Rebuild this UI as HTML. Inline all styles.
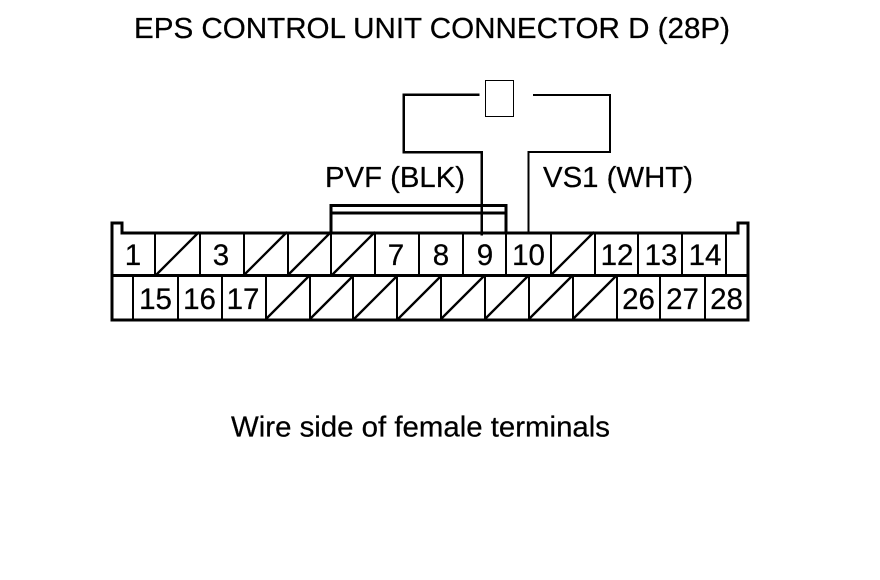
<!DOCTYPE html>
<html><head><meta charset="utf-8"><style>
html,body{margin:0;padding:0;background:#fff}
svg{display:block}
text{font-family:"Liberation Sans",sans-serif;fill:#000;stroke:#000;stroke-width:.25px;font-size:29.500px}
.n{text-anchor:middle}
.l{font-size:29px}
</style></head><body>
<svg width="880" height="580" viewBox="0 0 880 580" xmlns="http://www.w3.org/2000/svg">
<rect width="880" height="580" fill="#fff"/>
<g fill="none" stroke="#000" stroke-linecap="square" stroke-linejoin="miter" shape-rendering="crispEdges">
<path stroke-width="3" d="M112 320V223H122V233H738V223H748V320ZM112 275.500H748"/>
<path stroke-width="2" d="M155 233V275M200 233V275M244 233V275M288 233V275M331 233V275M375 233V275M419 233V275M463 233V275M506 233V275M551 233V275M595 233V275M638 233V275M682 233V275M726 233V275"/>
<path stroke-width="2" d="M133 276V319M178 276V319M222 276V319M266 276V319M310 276V319M353 276V319M397 276V319M441 276V319M485 276V319M529 276V319M573 276V319M617 276V319M660 276V319M705 276V319"/>
<path stroke-width="3" d="M331 232V205.500H506V232M331 213H506"/>
<path stroke-width="2.500" d="M478 94.500H403.500V152H481.500V234"/>
<path stroke-width="2" d="M534 95H610V152H528.500V232"/>
</g>
<rect x="485.500" y="80.500" width="28" height="36" fill="none" stroke="#000" stroke-width="1" shape-rendering="crispEdges"/>
<g fill="none" stroke="#000" stroke-linecap="butt">
<path stroke-width="2.300" d="M156 275L199 232M244 275L287 232M288 275L331 232M332 275L375 232M551 275L594 232M266 319L309 276M310 319L353 276M354 319L397 276M398 319L441 276M441 319L484 276M485 319L528 276M529 319L572 276M573 319L616 276"/>
</g>
<text class="l" x="134" y="38" textLength="596" lengthAdjust="spacingAndGlyphs">EPS CONTROL UNIT CONNECTOR D (28P)</text>
<text class="l" x="325" y="187" textLength="140" lengthAdjust="spacingAndGlyphs">PVF (BLK)</text>
<text class="l" x="543" y="187" textLength="150" lengthAdjust="spacingAndGlyphs">VS1 (WHT)</text>
<text class="l" x="231" y="436.500" textLength="379" lengthAdjust="spacingAndGlyphs">Wire side of female terminals</text>
<g>
<text class="n" x="133" y="265">1</text>
<text class="n" x="221" y="265">3</text>
<text class="n" x="396" y="265">7</text>
<text class="n" x="441" y="265">8</text>
<text class="n" x="485" y="265">9</text>
<text class="n" x="528.500" y="265">10</text>
<text class="n" x="617" y="265">12</text>
<text class="n" x="661" y="265">13</text>
<text class="n" x="705" y="265">14</text>
<text class="n" x="155.500" y="309">15</text>
<text class="n" x="199.500" y="309">16</text>
<text class="n" x="243" y="309">17</text>
<text class="n" x="638.500" y="309">26</text>
<text class="n" x="682.500" y="309">27</text>
<text class="n" x="726.500" y="309">28</text>
</g>
</svg>
</body></html>
